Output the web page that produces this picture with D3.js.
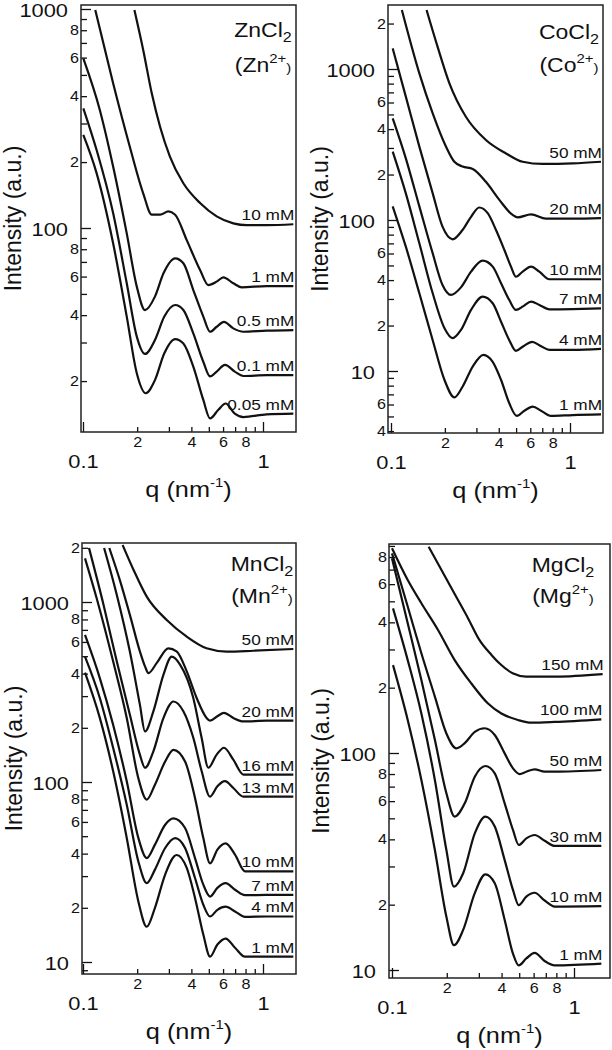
<!DOCTYPE html>
<html>
<head>
<meta charset="utf-8">
<script src="https://cdn.jsdelivr.net/npm/d3@7"></script>
<style>
  body { margin: 0; background: #fff; }
  svg { display: block; }
</style>
</head>
<body>
<div id="chart"></div>
<script>
// ---- data: [q (nm^-1), intensity (a.u.)] ----

// ZnCl2
const znNames = ["10 mM", "1 mM", "0.5 mM", "0.1 mM", "0.05 mM"];
const zn10 = [[0.193, 989], [0.216, 650], [0.241, 412], [0.268, 290], [0.304, 212], [0.361, 160], [0.447, 130], [0.553, 113], [0.684, 105], [0.812, 103], [1.048, 103], [1.474, 104]];
const zn1 = [[0.117, 989], [0.147, 458], [0.182, 235], [0.216, 144], [0.241, 115], [0.268, 115], [0.298, 119], [0.325, 115], [0.377, 88], [0.447, 64.3], [0.497, 54.9], [0.553, 56.9], [0.602, 59.5], [0.684, 55.9], [0.761, 53.6], [1.048, 54.3], [1.474, 54.3]];
const zn05 = [[0.1004, 595], [0.124, 346], [0.147, 191], [0.175, 94.5], [0.199, 54], [0.221, 42.2], [0.251, 48.6], [0.280, 62.1], [0.325, 72.7], [0.361, 69], [0.410, 52.1], [0.466, 39.4], [0.508, 33.6], [0.553, 35.4], [0.607, 37.3], [0.684, 34.8], [0.778, 33.6], [1.048, 34], [1.474, 34.2]];
const zn01 = [[0.1004, 352], [0.119, 227], [0.147, 117], [0.175, 55.9], [0.199, 31.9], [0.221, 26.6], [0.251, 30.8], [0.283, 39.4], [0.325, 44.5], [0.361, 42.2], [0.410, 33], [0.466, 24.5], [0.508, 21], [0.553, 22.1], [0.615, 23.7], [0.697, 22.1], [0.778, 21.1], [1.048, 21.3], [1.474, 21.3]];
const zn005 = [[0.1004, 266], [0.119, 178], [0.147, 85.1], [0.175, 39.4], [0.199, 21.7], [0.223, 17.6], [0.251, 20.2], [0.283, 26.8], [0.325, 31.1], [0.361, 29.7], [0.410, 23.3], [0.466, 16.4], [0.508, 13.5], [0.565, 14.8], [0.620, 15.8], [0.697, 14.2], [0.778, 13.7], [1.048, 14.1], [1.474, 14.2]];

// CoCl2
const coNames = ["50 mM", "20 mM", "10 mM", "7 mM", "4 mM", "1 mM"];
const co50 = [[0.158, 2459], [0.182, 1406], [0.212, 804], [0.262, 483], [0.339, 339], [0.439, 276], [0.544, 243], [0.704, 235], [1.035, 237], [1.490, 243]];
const co20 = [[0.115, 2459], [0.144, 936], [0.171, 509], [0.203, 306], [0.226, 243], [0.251, 226], [0.286, 218], [0.339, 179], [0.403, 136], [0.478, 108], [0.510, 104], [0.606, 109], [0.734, 102], [1.035, 102], [1.490, 103]];
const co10 = [[0.1022, 1370], [0.121, 656], [0.144, 306], [0.171, 150], [0.194, 90.3], [0.221, 74.5], [0.251, 85.9], [0.280, 105], [0.311, 121], [0.347, 111], [0.386, 85.9], [0.430, 63.3], [0.468, 49.1], [0.499, 42.1], [0.544, 45.5], [0.606, 49.1], [0.674, 45.5], [0.767, 40.5], [1.035, 40.5], [1.490, 40.5]];
const co7 = [[0.1022, 471], [0.121, 256], [0.144, 123], [0.171, 60.1], [0.194, 37.1], [0.216, 31.9], [0.246, 35.8], [0.280, 45.5], [0.325, 53.8], [0.370, 49.1], [0.412, 38.1], [0.458, 29.5], [0.499, 25.4], [0.549, 26.9], [0.606, 28.8], [0.674, 27.4], [0.767, 25.6], [1.035, 25.7], [1.490, 26.0]];
const co4 = [[0.1022, 284], [0.121, 150], [0.144, 70.1], [0.171, 32.7], [0.199, 19.2], [0.221, 16.5], [0.246, 18.7], [0.280, 25.4], [0.325, 31.1], [0.370, 28.1], [0.412, 21.2], [0.458, 16.0], [0.499, 13.6], [0.549, 14.6], [0.614, 15.6], [0.689, 14.6], [0.767, 13.8], [1.035, 13.8], [1.490, 14.0]];
const co1 = [[0.1022, 123], [0.121, 66.6], [0.144, 32.7], [0.171, 16.0], [0.199, 8.72], [0.226, 6.69], [0.251, 7.87], [0.286, 10.7], [0.328, 12.8], [0.370, 11.5], [0.412, 8.72], [0.458, 6.11], [0.504, 5.04], [0.556, 5.46], [0.619, 5.80], [0.689, 5.46], [0.783, 5.04], [1.035, 5.11], [1.490, 5.16]];

// MnCl2
const mnNames = ["50 mM", "20 mM", "16 mM", "13 mM", "10 mM", "7 mM", "4 mM", "1 mM"];
const mn50 = [[0.166, 2073], [0.191, 1506], [0.226, 1071], [0.292, 794], [0.377, 642], [0.486, 553], [0.628, 530], [0.884, 536], [1.474, 548]];
const mn20 = [[0.140, 1995], [0.161, 1303], [0.182, 851], [0.207, 532], [0.221, 439], [0.231, 403], [0.257, 459], [0.298, 553], [0.331, 532], [0.377, 412], [0.428, 293], [0.486, 227], [0.508, 219], [0.558, 232], [0.607, 242], [0.684, 227], [0.778, 217], [1.048, 219], [1.474, 219]];
const mn16 = [[0.131, 1995], [0.154, 1098], [0.182, 532], [0.207, 269], [0.221, 191], [0.246, 247], [0.280, 395], [0.311, 497], [0.346, 449], [0.410, 293], [0.456, 176], [0.497, 120], [0.553, 142], [0.607, 155], [0.684, 133], [0.778, 110], [1.048, 110], [1.474, 110]];
const mn13 = [[0.108, 1995], [0.130, 966], [0.154, 468], [0.182, 237], [0.207, 142], [0.221, 120], [0.246, 148], [0.280, 227], [0.318, 280], [0.361, 247], [0.410, 176], [0.456, 115], [0.508, 82.9], [0.558, 94.6], [0.615, 101], [0.684, 92.6], [0.778, 82.9], [1.048, 82.9], [1.474, 82.9]];
const mn10 = [[0.1026, 1748], [0.119, 1052], [0.147, 468], [0.175, 227], [0.203, 105], [0.226, 79.8], [0.251, 96.6], [0.286, 130], [0.318, 151], [0.369, 130], [0.419, 81.5], [0.466, 48.9], [0.508, 35.3], [0.558, 42.1], [0.620, 45.6], [0.699, 39.5], [0.794, 31.9], [1.048, 31.9], [1.474, 31.9]];
const mn7 = [[0.1026, 656], [0.124, 378], [0.147, 208], [0.175, 101], [0.203, 48.9], [0.226, 37.8], [0.251, 44.9], [0.286, 57.9], [0.318, 62.8], [0.369, 55.5], [0.419, 37.8], [0.466, 26.9], [0.508, 23.1], [0.558, 25.8], [0.620, 27.4], [0.699, 25.2], [0.794, 23.5], [1.048, 23.6], [1.474, 23.6]];
const mn4 = [[0.1026, 497], [0.124, 293], [0.147, 155], [0.175, 74.8], [0.203, 36.2], [0.226, 27.4], [0.251, 32.6], [0.286, 43.0], [0.325, 48.8], [0.369, 43.0], [0.419, 29.3], [0.466, 20.8], [0.508, 17.9], [0.558, 19.5], [0.620, 20.3], [0.699, 19.1], [0.794, 17.8], [1.048, 17.9], [1.474, 17.9]];
const mn1 = [[0.1026, 405], [0.124, 227], [0.147, 115], [0.175, 48.9], [0.203, 21.7], [0.226, 15.7], [0.251, 20.0], [0.286, 30.6], [0.331, 39.3], [0.377, 33.3], [0.419, 22.7], [0.466, 14.2], [0.508, 10.7], [0.558, 12.5], [0.620, 13.5], [0.699, 12.0], [0.794, 10.7], [1.048, 10.7], [1.474, 10.7]];

// MgCl2
const mgNames = ["150 mM", "100 mM", "50 mM", "30 mM", "10 mM", "1 mM"];
const mg150 = [[0.159, 893], [0.187, 697], [0.221, 540], [0.262, 417], [0.302, 332], [0.352, 283], [0.389, 259], [0.460, 233], [0.545, 225], [0.796, 225], [1.437, 231]];
const mg100 = [[0.1000, 878], [0.122, 627], [0.145, 490], [0.179, 369], [0.221, 268], [0.273, 209], [0.337, 169], [0.399, 152], [0.492, 142], [0.583, 138], [0.783, 139], [1.413, 143]];
const mg50 = [[0.1000, 832], [0.122, 473], [0.145, 288], [0.172, 182], [0.199, 123], [0.226, 105], [0.251, 111], [0.285, 125], [0.323, 130], [0.367, 121], [0.416, 99.6], [0.462, 85.0], [0.503, 80.0], [0.547, 82.0], [0.608, 84.1], [0.690, 82.0], [0.783, 82.0], [1.413, 83.5]];
const mg30 = [[0.1000, 789], [0.122, 396], [0.145, 217], [0.172, 115], [0.199, 65.2], [0.221, 50.9], [0.251, 58.6], [0.285, 77.8], [0.326, 87.1], [0.367, 80.6], [0.416, 58.6], [0.462, 44.2], [0.497, 37.7], [0.547, 40.4], [0.608, 41.9], [0.690, 39.4], [0.783, 37.3], [1.413, 37.3]];
const mg10 = [[0.1013, 464], [0.122, 268], [0.145, 152], [0.172, 75.1], [0.199, 35.7], [0.219, 24.2], [0.246, 27.9], [0.285, 42.6], [0.326, 50.9], [0.367, 45.8], [0.416, 32.1], [0.462, 23.4], [0.497, 19.9], [0.547, 21.8], [0.608, 22.7], [0.690, 20.9], [0.783, 19.6], [1.413, 19.7]];
const mg1 = [[0.1013, 254], [0.122, 142], [0.145, 75.1], [0.172, 35.7], [0.199, 17.6], [0.219, 13.0], [0.246, 15.3], [0.285, 22.6], [0.326, 27.6], [0.367, 25.1], [0.416, 17.0], [0.462, 11.9], [0.497, 10.5], [0.547, 11.3], [0.608, 12.0], [0.690, 11.0], [0.783, 10.5], [1.413, 10.7]];

// ---- layout ----
const W = 612, H = 1050;
const SX = 1.15; // the figure's lettering is a bit wider than Arial
const FONT = '"Liberation Sans", Arial, Helvetica, sans-serif';
const INK = "#111";

// box = [left, right, top, bottom]; xAnchor: pixel of q=0.1 and q=1; yAnchor: two [value, pixel] pairs
const panels = [
  {salt: "ZnCl", ion: "Zn", box: [81, 296, 5, 432], xAnchor: [83, 263], yAnchor: [[100, 228], [1000, 9]],
   yMinorLabels: [2, 4, 6, 8], titleX: 263, titleY: [37, 72], names: znNames, curves: [zn10, zn1, zn05, zn01, zn005]},
  {salt: "CoCl", ion: "Co", box: [388, 603, 5, 433], xAnchor: [391, 570], yAnchor: [[100, 220], [1000, 69]],
   yMinorLabels: [2, 4, 6], titleX: 569, titleY: [39, 72], names: coNames, curves: [co50, co20, co10, co7, co4, co1]},
  {salt: "MnCl", ion: "Mn", box: [82, 296, 543, 974], xAnchor: [83, 263], yAnchor: [[100, 782], [1000, 602]],
   yMinorLabels: [2, 4, 6, 8], titleX: 262, titleY: [571, 603], names: mnNames, curves: [mn50, mn20, mn16, mn13, mn10, mn7, mn4, mn1]},
  {salt: "MgCl", ion: "Mg", box: [389, 610, 544, 978], xAnchor: [392, 574], yAnchor: [[10, 970], [100, 753]],
   yMinorLabels: [2, 4, 6, 8], titleX: 563, titleY: [572, 603], names: mgNames, curves: [mg150, mg100, mg50, mg30, mg10, mg1]}
];

const svg = d3.select("#chart").append("svg")
  .attr("width", W)
  .attr("height", H)
  .attr("font-family", FONT)
  .style("color", INK);

// decades and in-between ticks inside [lo, hi]
function logTicks(lo, hi) {
  const major = [], minor = [];
  for (let e = Math.floor(Math.log10(lo)); e <= Math.ceil(Math.log10(hi)); e++) {
    for (let k = 1; k <= 9; k++) {
      const v = +(k * Math.pow(10, e)).toPrecision(6);
      if (v < lo || v > hi) continue;
      (k === 1 ? major : minor).push(v);
    }
  }
  return {major, minor};
}

function leadDigit(v) {
  return Math.round(v / Math.pow(10, Math.floor(Math.log10(v) + 1e-9)));
}

// widen tick labels the same way as the rest of the lettering
function widenLabels(g, size, dy) {
  g.attr("font-size", size).attr("font-family", FONT);
  g.select(".domain").remove();
  g.selectAll(".tick line").attr("stroke-width", 1.3);
  g.selectAll(".tick text").each(function () {
    const t = d3.select(this);
    const tx = +t.attr("x") || 0, ty = +t.attr("y") || 0;
    t.attr("x", 0).attr("y", 0).attr("transform", `translate(${tx},${ty}) scale(${SX},1)`);
    if (dy) t.attr("dy", dy);
  });
}

function text(g, x, y, size, anchor) {
  return g.append("text")
    .attr("transform", `translate(${x},${y}) scale(${SX},1)`)
    .attr("font-size", size)
    .attr("text-anchor", anchor)
    .attr("fill", INK);
}

panels.forEach((p, i) => {
  const [L, R, T, B] = p.box;

  const x = d3.scaleLog().domain([0.1, 1]).range(p.xAnchor);
  x.domain([x.invert(L), x.invert(R)]).range([L, R]);
  const y = d3.scaleLog().domain([p.yAnchor[0][0], p.yAnchor[1][0]]).range([p.yAnchor[0][1], p.yAnchor[1][1]]);
  y.domain([y.invert(B), y.invert(T)]).range([B, T]);

  const g = svg.append("g");

  // clip the curves to the frame
  g.append("clipPath").attr("id", "clip" + i)
    .append("rect").attr("x", L).attr("y", T).attr("width", R - L).attr("height", B - T);

  // x axis, ticks pointing in
  const xt = logTicks(...x.domain());
  g.append("g").attr("transform", `translate(0,${B})`)
    .call(d3.axisBottom(x).tickValues(xt.major).tickSize(-10).tickPadding(23)
      .tickFormat(d => d < 1 ? d3.format(".1f")(d) : d3.format("d")(d)))
    .call(a => widenLabels(a, 19));
  g.append("g").attr("transform", `translate(0,${B})`)
    .call(d3.axisBottom(x).tickValues(xt.minor).tickSize(-5).tickPadding(5)
      .tickFormat(d => [2, 4, 6, 8].includes(leadDigit(d)) ? leadDigit(d) : ""))
    .call(a => widenLabels(a, 14));

  // y axis
  const yt = logTicks(...y.domain());
  g.append("g").attr("transform", `translate(${L},0)`)
    .call(d3.axisLeft(y).tickValues(yt.major).tickSize(-10).tickPadding(13)
      .tickFormat(d3.format("d")))
    .call(a => widenLabels(a, 19, "0.42em"));
  g.append("g").attr("transform", `translate(${L},0)`)
    .call(d3.axisLeft(y).tickValues(yt.minor).tickSize(-6).tickPadding(2)
      .tickFormat(d => p.yMinorLabels.includes(leadDigit(d)) ? leadDigit(d) : ""))
    .call(a => widenLabels(a, 14));

  // curves
  const line = d3.line()
    .x(d => x(d[0]))
    .y(d => y(d[1]))
    .curve(d3.curveMonotoneX);

  g.append("g").attr("clip-path", `url(#clip${i})`)
    .selectAll("path")
    .data(p.curves)
    .enter()
    .append("path")
    .attr("d", line)
    .attr("fill", "none")
    .attr("stroke", INK)
    .attr("stroke-width", 2.2)
    .attr("stroke-linejoin", "round");

  // concentration labels sit on the flat tail of each curve
  p.curves.forEach((c, j) => {
    const last = c[c.length - 1];
    text(g, x(last[0]) + 1, y(last[1]) - 4, 15, "end").text(p.names[j]);
  });

  // frame
  g.append("rect")
    .attr("x", L).attr("y", T)
    .attr("width", R - L).attr("height", B - T)
    .attr("fill", "none")
    .attr("stroke", "#222")
    .attr("stroke-width", 1.5);

  // salt and ion
  const t1 = text(g, p.titleX, p.titleY[0], 20, "middle");
  t1.append("tspan").text(p.salt);
  t1.append("tspan").attr("font-size", 14).attr("dy", 5).text("2");
  const t2 = text(g, p.titleX, p.titleY[1], 20, "middle");
  t2.append("tspan").text("(" + p.ion);
  t2.append("tspan").attr("font-size", 13).attr("dy", -9).text("2+");
  t2.append("tspan").attr("font-size", 13).attr("dy", 9).text(")");

  // axis titles
  const xl = text(g, (L + R) / 2, B + 65, 22, "middle");
  xl.append("tspan").text("q (nm");
  xl.append("tspan").attr("font-size", 13).attr("dy", -10).text("-1");
  xl.append("tspan").attr("dy", 10).text(")");

  g.append("text")
    .attr("transform", `translate(${L - 60},${(T + B) / 2}) rotate(-90)`)
    .attr("text-anchor", "middle")
    .attr("font-size", 23)
    .attr("fill", INK)
    .text("Intensity (a.u.)");
});
</script>
</body>
</html>
